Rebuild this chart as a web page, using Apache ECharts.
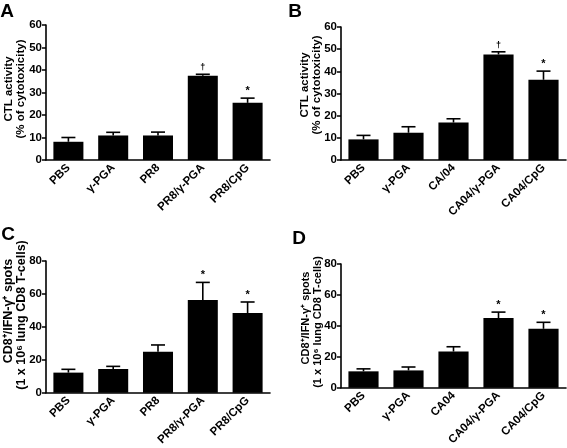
<!DOCTYPE html>
<html><head><meta charset="utf-8">
<script src="https://cdn.jsdelivr.net/npm/echarts@6/dist/echarts.min.js"></script>
<style>html,body{margin:0;padding:0;background:#fff}#c{width:567px;height:448px}</style>
</head><body><div id="c"></div>
<script>
// ---- data ----
var catsA = ['PBS', 'γ-PGA', 'PR8', 'PR8/γ-PGA', 'PR8/CpG'];
var meanA = [8.1, 10.9, 10.9, 37.4, 25.4];
var semA  = [1.9, 1.4, 1.5, 0.7, 2.1];
var markA = ['', '', '', '†', '*'];

var catsB = ['PBS', 'γ-PGA', 'CA/04', 'CA04/γ-PGA', 'CA04/CpG'];
var meanB = [9.3, 12.3, 16.9, 47.6, 36.2];
var semB  = [1.8, 2.7, 1.7, 1.2, 3.9];
var markB = ['', '', '', '†', '*'];

var catsC = ['PBS', 'γ-PGA', 'PR8', 'PR8/γ-PGA', 'PR8/CpG'];
var meanC = [12.2, 14.4, 24.9, 56.3, 48.4];
var semC  = [2.0, 1.6, 4.1, 10.7, 6.7];
var markC = ['', '', '', '*', '*'];

var catsD = ['PBS', 'γ-PGA', 'CA04', 'CA04/γ-PGA', 'CA04/CpG'];
var meanD = [10.6, 11.2, 23.4, 45.1, 38.1];
var semD  = [1.6, 2.2, 3.1, 3.8, 4.2];
var markD = ['', '', '', '*', '*'];

var ticksAB = {min: 0, max: 60, interval: 10};
var ticksCD = {min: 0, max: 80, interval: 20};

var panelLetters = ['A', 'B', 'C', 'D'];
var titleAB = ['CTL activity', '(% of cytotoxicity)'];
var titleCD = ['CD8⁺/IFN-γ⁺ spots', '(1 x 10⁶ lung CD8 T-cells)'];

// ---- chart ----
var FONT = '"Liberation Sans", Arial, Helvetica, sans-serif';
var chart = echarts.init(document.getElementById('c'), null, {renderer: 'canvas'});

var grids = [
  {left: 46, top: 25, width: 224, height: 135},
  {left: 341, top: 27, width: 225, height: 133},
  {left: 46, top: 261, width: 224, height: 135},
  {left: 341, top: 264, width: 225, height: 133}
];
var panels = [
  {cats: catsA, mean: meanA, sem: semA, mark: markA, ticks: ticksAB},
  {cats: catsB, mean: meanB, sem: semB, mark: markB, ticks: ticksAB},
  {cats: catsC, mean: meanC, sem: semC, mark: markC, ticks: ticksCD},
  {cats: catsD, mean: meanD, sem: semD, mark: markD, ticks: ticksCD}
];

var axisLine = {lineStyle: {color: '#000', width: 1.6}};
var xAxes = [], yAxes = [], series = [];
panels.forEach(function (p, k) {
  xAxes.push({
    type: 'category', gridIndex: k, data: p.cats,
    axisLine: axisLine,
    axisTick: {alignWithLabel: true, length: 4, lineStyle: {color: '#000', width: 1.5}},
    axisLabel: {rotate: 45, margin: 6, color: '#000', fontFamily: FONT, fontWeight: 'bold', fontSize: 11.5, interval: 0}
  });
  yAxes.push({
    type: 'value', gridIndex: k, min: p.ticks.min, max: p.ticks.max, interval: p.ticks.interval,
    axisLine: {show: true, lineStyle: {color: '#000', width: 1.6}},
    axisTick: {show: true, length: 4, lineStyle: {color: '#000', width: 1.5}},
    splitLine: {show: false},
    axisLabel: {margin: 4, color: '#000', fontFamily: FONT, fontWeight: 'bold', fontSize: 11.5}
  });
  series.push({
    type: 'bar', xAxisIndex: k, yAxisIndex: k, data: p.mean,
    barWidth: '67%', itemStyle: {color: '#000'}, silent: true, z: 2
  });
  var errData = p.mean.map(function (v, i) { return [i, v, p.sem[i]]; });
  series.push({
    type: 'custom', xAxisIndex: k, yAxisIndex: k, data: errData, z: 3, silent: true,
    encode: {x: 0, y: 1},
    renderItem: (function (marks) {
      return function (params, api) {
        var i = api.value(0), v = api.value(1), e = api.value(2);
        var p0 = api.coord([i, v]), p1 = api.coord([i, v + e]);
        var ch = [
          {type: 'line', shape: {x1: p0[0], y1: p0[1], x2: p1[0], y2: p1[1]}, style: {stroke: '#000', lineWidth: 1.6}},
          {type: 'line', shape: {x1: p1[0] - 7, y1: p1[1], x2: p1[0] + 7, y2: p1[1]}, style: {stroke: '#000', lineWidth: 1.6}}
        ];
        var m = marks[i];
        if (m) {
          ch.push({type: 'text', x: p1[0], y: p1[1] - 2,
            style: {text: m, fill: '#000', fontFamily: FONT, fontWeight: 'bold', fontSize: (m === '*' ? 11 : 9),
              align: 'center', verticalAlign: 'bottom', textAlign: 'center', textVerticalAlign: 'bottom'}});
        }
        return {type: 'group', children: ch};
      };
    })(p.mark)
  });
});

function txt(x, y, text, size, rot) {
  var st = {text: text, fill: '#000', fontFamily: FONT, fontWeight: 'bold', fontSize: size,
    align: 'center', verticalAlign: 'middle', textAlign: 'center', textVerticalAlign: 'middle'};
  return {type: 'text', x: x, y: y, rotation: rot, style: st, silent: true};
}
var R = Math.PI / 2;
var graphics = [
  txt(7, 12, panelLetters[0], 19, 0),
  txt(295, 12, panelLetters[1], 19, 0),
  txt(8, 235, panelLetters[2], 19, 0),
  txt(299, 239, panelLetters[3], 19, 0),
  txt(9, 89, titleAB[0], 11.5, R),
  txt(21, 89, titleAB[1], 11.5, R),
  txt(305, 85, titleAB[0], 11.5, R),
  txt(317, 85, titleAB[1], 11.5, R),
  txt(9, 311, titleCD[0], 12.5, R),
  txt(22, 315, titleCD[1], 12.5, R),
  txt(306, 318, titleCD[0], 11, R),
  txt(318, 322, titleCD[1], 11, R)
];

chart.setOption({
  animation: false,
  backgroundColor: '#fff',
  grid: grids,
  xAxis: xAxes,
  yAxis: yAxes,
  series: series,
  graphic: graphics
});
</script></body></html>
